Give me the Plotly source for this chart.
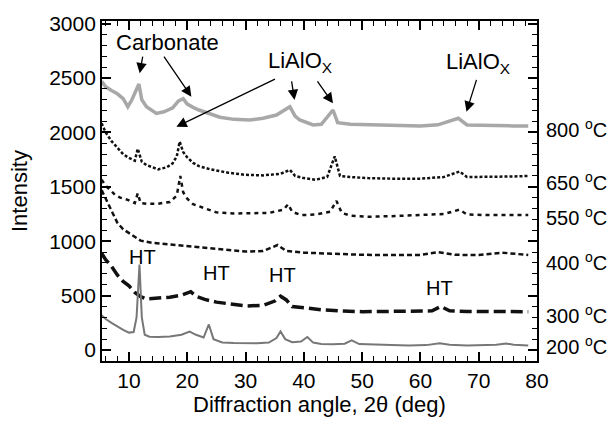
import plotly.graph_objects as go

# ---- data ----
x200 = [5.3, 6, 7, 8, 9, 10, 10.8, 11.3, 11.8, 12.2, 12.7, 13.5, 15, 17, 19, 20.4, 21.5, 22.8, 23.7, 24.5, 26, 28, 30, 32, 34, 35.3, 36, 36.8, 38, 39.5, 40.6, 41.6, 43, 45, 47, 48.2, 49.5, 52, 55, 58, 61, 63.3, 65, 68, 71, 73, 74.7, 76, 78.5]
y200 = [320, 285, 250, 215, 185, 160, 165, 300, 785, 300, 140, 122, 120, 125, 140, 170, 140, 115, 235, 100, 70, 64, 62, 62, 68, 110, 170, 100, 72, 78, 120, 68, 55, 52, 58, 88, 55, 48, 45, 42, 45, 62, 48, 42, 42, 48, 60, 48, 42]

x300 = [5.3, 6, 7, 8, 9, 10, 11, 12, 13, 15, 17, 19, 20.6, 21.5, 23, 25, 28, 30, 33, 35, 36, 37, 38, 40, 43, 46, 50, 55, 60, 62, 63.5, 65, 68, 72, 76, 78.5]
y300 = [890, 830, 770, 690, 630, 590, 530, 490, 470, 475, 485, 505, 536, 495, 465, 440, 420, 405, 410, 450, 495, 460, 400, 385, 370, 360, 352, 355, 356, 360, 400, 360, 355, 352, 352, 352]

x400 = [5.3, 6, 7, 8, 9, 10, 11, 12, 14, 16, 18, 20, 22, 25, 28, 30, 33, 35.5, 37, 40, 45, 50, 55, 60, 63, 66, 70, 74, 78.5]
y400 = [1470, 1390, 1270, 1170, 1110, 1075, 1035, 1005, 985, 975, 962, 950, 940, 925, 912, 905, 910, 965, 910, 895, 885, 875, 873, 873, 900, 875, 873, 895, 873]

x550 = [5.3, 6, 7, 7.6, 8.5, 9.8, 11, 11.5, 12, 13, 15, 17, 18.2, 18.8, 19.3, 20, 21, 23, 25, 28, 31, 34, 36.5, 37.3, 38, 39.5, 42, 44.5, 45.6, 46.5, 48, 51, 55, 60, 64, 66.7, 68, 72, 76, 78.5]
y550 = [1565, 1510, 1460, 1425, 1400, 1380, 1350, 1440, 1350, 1345, 1345, 1360, 1420, 1600, 1450, 1390, 1340, 1300, 1265, 1255, 1255, 1260, 1290, 1340, 1270, 1240, 1245, 1270, 1370, 1260, 1235, 1225, 1230, 1240, 1250, 1290, 1245, 1240, 1240, 1240]

x650 = [5.3, 6, 7, 8, 9, 10, 11, 11.5, 12.2, 13, 15, 16.5, 17.5, 18.2, 18.7, 19.3, 20, 21, 22, 24, 27, 30, 33, 36, 37.6, 38.5, 40, 42, 44, 45.3, 46.2, 48, 51, 55, 60, 64, 66.7, 68, 72, 76, 78.5]
y650 = [2085, 2000, 1920, 1860, 1800, 1765, 1740, 1850, 1730, 1700, 1660, 1680, 1716, 1780, 1915, 1820, 1770, 1720, 1690, 1660, 1630, 1610, 1605, 1620, 1655, 1600, 1580, 1565, 1590, 1780, 1600, 1590, 1580, 1575, 1575, 1590, 1640, 1590, 1590, 1595, 1600]

x800 = [5.3, 6, 7, 8, 9, 9.8, 10.5, 11.2, 11.7, 12.2, 13, 14.7, 16, 17.5, 18.5, 19.3, 20, 21, 22, 25.6, 28, 30.7, 33, 35.3, 37.6, 38.5, 39.3, 41.6, 43, 45, 45.8, 48, 52, 56, 60, 63, 66.5, 68, 72, 76, 78.5]
y800 = [2470, 2420, 2385, 2355, 2310, 2236, 2300, 2380, 2445, 2300, 2236, 2175, 2190, 2225, 2290, 2310, 2260, 2230, 2206, 2140, 2120, 2114, 2130, 2160, 2236, 2150, 2114, 2068, 2075, 2206, 2090, 2075, 2070, 2068, 2060, 2070, 2130, 2068, 2060, 2060, 2059]

temp_labels = ["800", "650", "550", "400", "300", "200"]
temp_label_y = [2040, 1547, 1225, 811, 322, 39]

x_ticks = [10, 20, 30, 40, 50, 60, 70, 80]
y_ticks = [0, 500, 1000, 1500, 2000, 2500, 3000]

FONT = "Liberation Sans, Arial, Helvetica, sans-serif"
FS_TICK = 21
FS = 22
FS_HT = 20
FS_TEMP = 20

fig = go.Figure()
styles = [
    (x800, y800, dict(color="#a8a8a8", width=3.5)),
    (x650, y650, dict(color="#111111", width=2.5, dash="3px,2px")),
    (x550, y550, dict(color="#111111", width=2.5, dash="4px,4px")),
    (x400, y400, dict(color="#111111", width=2.5, dash="5px,3px")),
    (x300, y300, dict(color="#111111", width=3.5, dash="12px,5px")),
    (x200, y200, dict(color="#777777", width=2)),
]
for xs, ys, ln in styles:
    fig.add_trace(go.Scatter(x=xs, y=ys, mode="lines", line=ln, showlegend=False, hoverinfo="skip"))

axis_common = dict(
    showline=True, linecolor="black", linewidth=1.8, mirror="allticks",
    ticks="inside", ticklen=9, tickwidth=1.5, tickcolor="black",
    showgrid=False, zeroline=False,
    tickfont=dict(family=FONT, size=FS_TICK, color="black"),
)
fig.update_xaxes(range=[5.37, 80], tickvals=x_ticks, ticktext=[str(v) for v in x_ticks],
                 minor=dict(dtick=2, tick0=0, ticks="inside", ticklen=5, tickwidth=1.2, tickcolor="black"),
                 **axis_common)
fig.update_yaxes(range=[-101, 3024], tickvals=y_ticks, ticktext=[str(v) for v in y_ticks],
                 minor=dict(dtick=100, tick0=0, ticks="inside", ticklen=5, tickwidth=1.2, tickcolor="black"),
                 **axis_common)

ann = []
def txt(x, y, t, size=FS, **kw):
    d = dict(x=x, y=y, text=t, showarrow=False, xanchor="center", yanchor="middle",
             font=dict(family=FONT, size=size, color="black"))
    d.update(kw)
    ann.append(d)

def arrow(x0, y0, x1, y1):
    ann.append(dict(x=x1, y=y1, ax=x0, ay=y0, xref="x", yref="y", axref="x", ayref="y",
                    text="", showarrow=True, arrowhead=2, arrowsize=1.6, arrowwidth=1.3, arrowcolor="black"))

txt(16.64, 2822, "Carbonate")
arrow(12.4, 2711, 11.84, 2543)
arrow(15.83, 2711, 20.7, 2328)
txt(39.3, 2647, "LiAlO<sub>X</sub>")
arrow(35.3, 2497, 18.13, 2052)
arrow(37.86, 2482, 38.4, 2298)
arrow(42.15, 2482, 45.0, 2267)
txt(69.8, 2638, "LiAlO<sub>X</sub>")
arrow(69.7, 2497, 67.9, 2190)
txt(12.35, 855, "HT", size=FS_HT)
txt(25.05, 708, "HT", size=FS_HT)
txt(36.4, 689, "HT", size=FS_HT)
txt(63.3, 570, "HT", size=FS_HT)

for lab, yv in zip(temp_labels, temp_label_y):
    txt(1.0165, yv, f"{lab} <sup>o</sup>C", size=FS_TEMP, xref="paper", yref="y", xanchor="left")

txt(-0.1908, 0.5, "Intensity", xref="paper", yref="paper", textangle=-90)
txt(0.5, -0.1265, "Diffraction angle, 2θ (deg)", xref="paper", yref="paper")

fig.update_layout(
    width=611, height=421,
    margin=dict(l=102, r=74, t=21, b=60),
    paper_bgcolor="white", plot_bgcolor="white",
    annotations=ann,
    font=dict(family=FONT, size=FS, color="black"),
)
fig.write_html("out.html")
